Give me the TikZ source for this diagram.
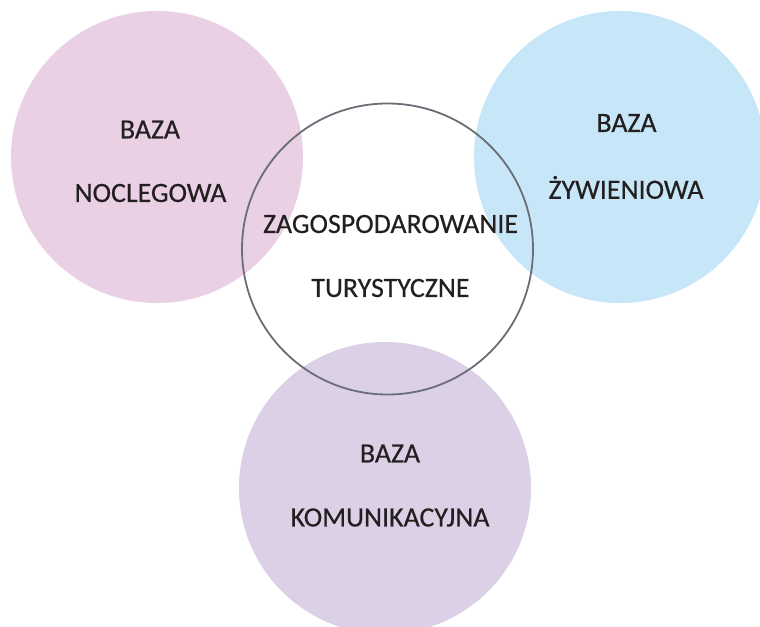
\documentclass[tikz,border=0pt]{standalone}
\usepackage{fontspec}
\setmainfont{Carlito}[FakeBold=0.4]
\definecolor{pinkc}{RGB}{233,208,228}
\definecolor{bluec}{RGB}{199,231,248}
\definecolor{purplec}{RGB}{220,208,230}
\definecolor{ringc}{RGB}{105,110,118}
\definecolor{txtc}{RGB}{35,31,32}
\begin{document}
\begin{tikzpicture}[x=1bp,y=-1bp,
  blob/.style={circle,draw=none,minimum size=292bp,inner sep=0pt},
  ring/.style={circle,draw=ringc,line width=1.8bp,minimum size=291bp,inner sep=0pt},
  lbl/.style={font=\fontsize{28}{32}\selectfont,text=txtc,inner sep=0pt,anchor=center}]
\useasboundingbox (0,0) rectangle (760,627);
\clip (0,0) rectangle (760,627);
\node[blob,fill=pinkc] (noc) at (157,157) {};
\node[blob,fill=bluec] (ziw) at (620,157) {};
\node[blob,fill=purplec] (kom) at (385,488) {};
\node[ring] (zag) at (387.5,249) {};
\node[lbl] (t1) at (150,129.5) {BAZA};
\node[lbl] (t2) at (150.5,193) {NOCLEGOWA};
\node[lbl] (t3) at (626.5,123) {BAZA};
\node[lbl] (t4) at (626,187.5) {ŻYWIENIOWA};
\node[lbl] (t5) at (390.5,224) {ZAGOSPODAROWANIE};
\node[lbl] (t6) at (390.5,288) {TURYSTYCZNE};
\node[lbl] (t7) at (390,453.5) {BAZA};
\node[lbl] (t8) at (390,517.5) {KOMUNIKACYJNA};
\end{tikzpicture}
\end{document}
